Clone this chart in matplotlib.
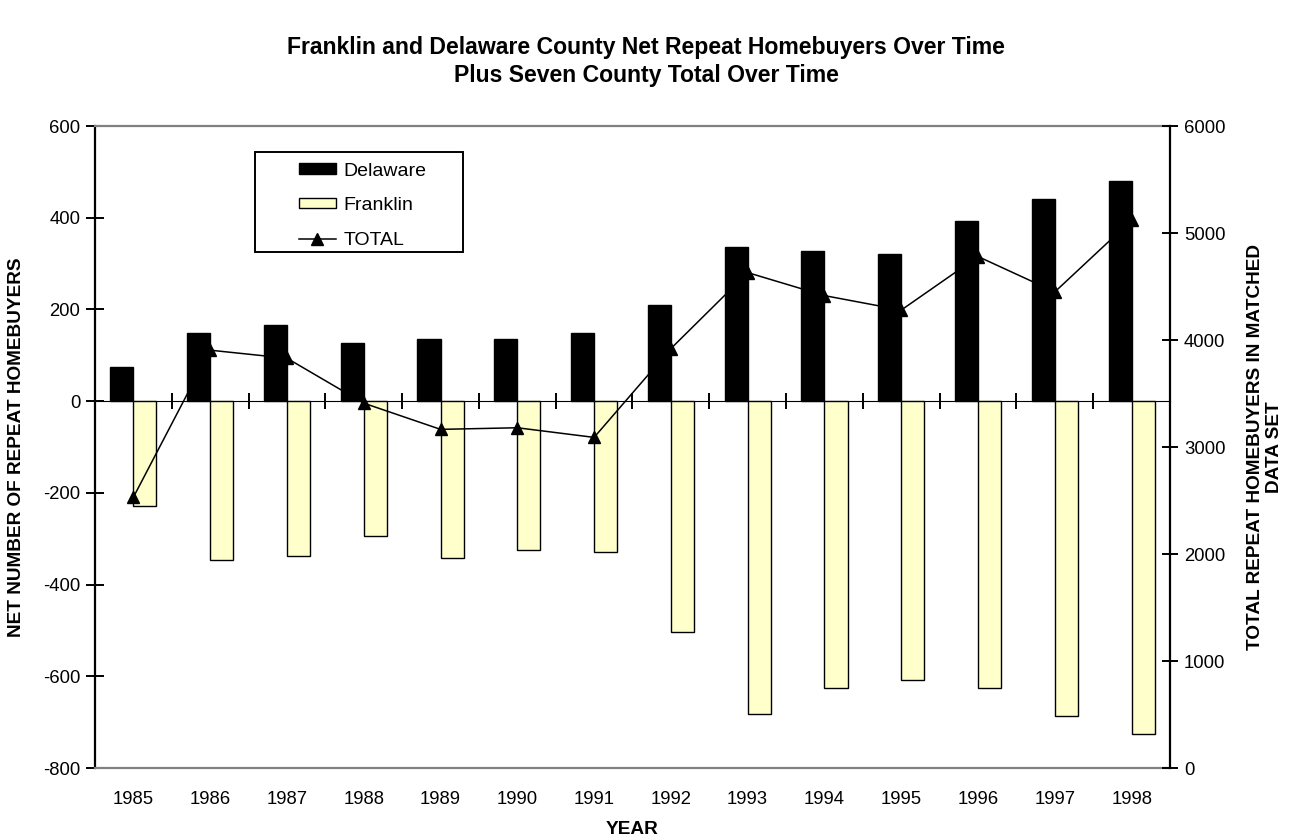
import matplotlib
matplotlib.use('Agg')
import matplotlib.pyplot as plt
from matplotlib.lines import Line2D
from matplotlib.patches import Patch, Rectangle
import numpy as np

years = [1985, 1986, 1987, 1988, 1989, 1990, 1991,
         1992, 1993, 1994, 1995, 1996, 1997, 1998]
delaware = [74, 148, 165, 126, 135, 135, 148, 209, 336, 327, 322, 392, 440, 480]
franklin = [-229, -347, -337, -294, -342, -325, -329,
            -503, -682, -625, -608, -625, -686, -725]
total = [2530, 3905, 3830, 3410, 3165, 3180, 3090,
         3920, 4630, 4415, 4280, 4780, 4450, 5120]

plt.rcParams['font.family'] = ['Liberation Sans', 'DejaVu Sans']
plt.rcParams['axes.unicode_minus'] = False

fig = plt.figure(figsize=(12.92, 8.39), dpi=100)
ax = fig.add_axes([0.0735, 0.0846, 0.8321, 0.7652])

x = np.arange(len(years))
ax.bar(x - 0.15, delaware, 0.3, color='black', edgecolor='black', lw=1)
ax.bar(x + 0.15, franklin, 0.3, color='#FFFFCC', edgecolor='black', lw=1)

ax.set_xlim(-0.5, len(years) - 0.5)
ax.set_ylim(-800, 600)
ax.set_yticks(range(-800, 601, 200))
ax.set_xticks(x, [str(y) for y in years])
ax.tick_params(axis='x', length=0, pad=16.5, labelsize=13.3)
ax.tick_params(axis='y', direction='inout', length=13, width=1.4,
               labelsize=13.3, pad=4)
for side in ['top', 'bottom']:
    ax.spines[side].set_color('#808080')
    ax.spines[side].set_linewidth(1.6)
ax.spines['left'].set_linewidth(1.6)
ax.spines['right'].set_visible(False)

# zero line with tick marks between the years
zaxis = ax.secondary_xaxis(800 / 1400)
zaxis.set_xticks(np.arange(0.5, len(years) - 1, 1.0))
zaxis.tick_params(direction='inout', length=12, width=1.4,
                  labelbottom=False, labeltop=False)
zaxis.spines['bottom'].set_linewidth(1.8)

ax2 = ax.twinx()
ax2.plot(x, total, color='black', lw=1.1, marker='^', ms=8.5)
ax2.set_ylim(0, 6000)
ax2.set_yticks(range(0, 6001, 1000))
ax2.tick_params(axis='y', direction='inout', length=12, width=1.4,
                labelsize=13.3, pad=4)
for side in ['top', 'bottom', 'left']:
    ax2.spines[side].set_visible(False)
ax2.spines['right'].set_linewidth(1.6)

# legend box
ax2.add_patch(Rectangle((0.1488, 0.8037), 0.1935, 0.1558, transform=ax2.transAxes,
                        facecolor='white', edgecolor='black', lw=1.4, zorder=5))
handles = [
    Patch(facecolor='black', edgecolor='black', lw=1),
    Patch(facecolor='#FFFFCC', edgecolor='black', lw=1),
    Line2D([], [], color='black', lw=1.1, marker='^', ms=8.5),
]
leg = ax2.legend(handles, ['Delaware', 'Franklin', 'TOTAL'], loc='upper left',
                 bbox_to_anchor=(0.1898, 0.943), frameon=False, fontsize=14,
                 borderpad=0, borderaxespad=0, handlelength=1.9,
                 handleheight=0.45, handletextpad=0.4, labelspacing=0.9,
                 numpoints=1)
leg.set_zorder(6)

head = dict(fontweight='bold')
fig.text(0.5, 1 - 61.5 / 839,
         'Franklin and Delaware County Net Repeat Homebuyers Over Time\n'
         'Plus Seven County Total Over Time',
         ha='center', va='center', fontsize=16.6, linespacing=1.3, **head)
fig.text(17 / 1292, 1 - 447 / 839, 'NET NUMBER OF REPEAT HOMEBUYERS',
         rotation=90, ha='center', va='center', fontsize=13.7, **head)
fig.text(1265 / 1292, 1 - 447 / 839,
         'TOTAL REPEAT HOMEBUYERS IN MATCHED\nDATA SET',
         rotation=90, ha='center', va='center', multialignment='center',
         linespacing=1.2, fontsize=13.7, **head)
fig.text(632 / 1292, 1 - 830 / 839, 'YEAR', ha='center', va='center',
         fontsize=13.7, **head)

fig.savefig('out.png', dpi=100)
